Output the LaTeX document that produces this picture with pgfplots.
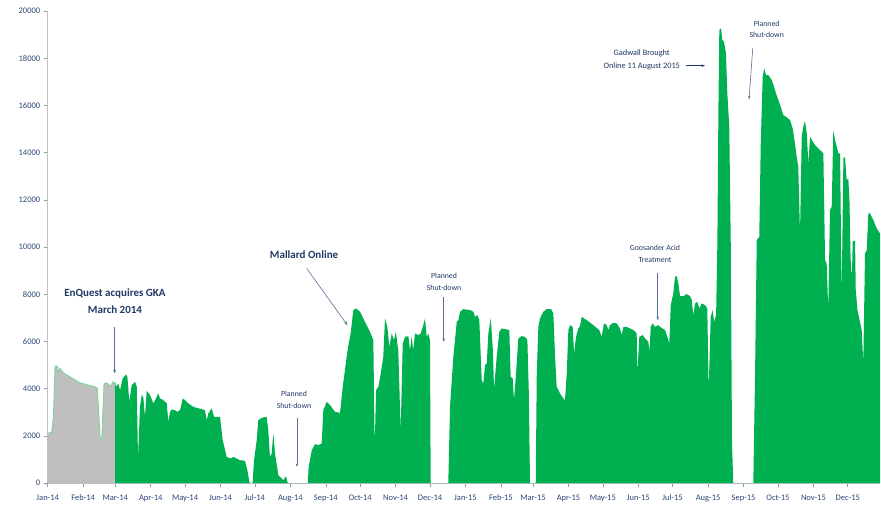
\documentclass[border=0pt]{standalone}
\usepackage{pgfplots}
\pgfplotsset{compat=1.18}
\usepackage{fontspec}
\setmainfont{Carlito}
\usetikzlibrary{arrows.meta}
\definecolor{prodgreen}{HTML}{00B050}
\definecolor{pregrey}{HTML}{BFBFBF}
\definecolor{preline}{HTML}{7FD39B}
\definecolor{navytext}{HTML}{1F3864}
\definecolor{ticktext}{HTML}{2A4577}
\definecolor{arrowcol}{HTML}{5B6F95}
\definecolor{axisgrey}{HTML}{BFBFBF}

% production before acquisition (Jan-Feb 2014), x = days since 1 Jan 2014
\pgfplotstableread{
d v
0 2100
3.5 2170
5 2810
6.4 4957
8.4 4957
9.3 4716
10.7 4860
13.7 4674
28.2 4250
35 4160
41.3 4080
43.4 4012
45.7 1962
47.2 1822
49.2 4224
51.5 4250
55 4110
57 4292
59 4200
}\pregka

\pgfplotstableread{
d v
59 0
59 4292
59.7 4080
61.7 4224
63.2 3940
65.5 4436
68.4 4605
69.6 4504
71.3 3445
73.4 4152
76.3 4292
77.8 4080
78.9 1046
80.6 3233
82.1 3729
83.5 3657
85 2810
86.5 3911
89.4 3729
92.3 3377
94.6 3589
96.6 3800
98.1 3589
101 3517
104 3377
105.4 2597
106.9 3021
108.3 3123
111.2 3093
113.2 3021
115.6 3093
118 3589
120 3517
122.9 3377
127.2 3233
137.4 3093
139 2669
140.3 2953
143.3 3165
145.3 2810
150.5 2810
152.9 1822
156.4 1114
159.3 1046
162.2 1114
168 975
172.4 945
174.4 551
176.2 55
176.8 0
179 0
180.3 975
182.6 1822
184 2669
186.1 2741
188.4 2784
191.3 2810
192.7 2246
194.2 1114
195.7 1258
197.1 2106
198.6 1258
201.5 339
205.9 127
208.2 297
209.4 55
210 0
227.2 0
228 691
230.7 1398
233.6 1652
236.5 1610
239.4 1681
240.8 3093
243.8 3445
246.7 3305
251 3021
255.4 2979
257.8 4080
261.2 5351
262.7 5847
264.7 6343
267 7330
269.4 7400
272.9 7259
277.2 6834
281.6 6410
284.5 6059
285.7 1540
286.9 3940
288.9 4080
291 4647
293.2 5351
294.7 6977
296.7 6622
298.5 5775
300.6 6343
302.6 6059
304.1 6410
306.3 5635
308.4 2200
310.2 5919
312.2 6199
315.1 6228
316.5 5635
318 6199
319.4 5635
320.9 6343
323.8 6271
325.9 6343
327.7 6622
329.7 6977
331.1 6199
332.5 6343
334 6059
334.6 0
350 0
351.5 3233
354.4 5351
357.4 6834
358.8 6906
360.3 7259
363.1 7372
369 7330
371.9 7259
373.4 7046
375.4 7118
377.1 6906
379.2 4364
380.6 4224
382.1 5000
383.6 5072
385 6343
387.1 6977
388.8 5775
390 4012
392.3 5351
394.6 6410
396.7 6555
401 6512
403.3 6483
404.5 4504
406.3 4436
407.4 3517
409.2 4647
411.2 6131
414.1 6228
417 6199
419.1 6059
420.3 3940
421.4 0
426.4 0
427.3 4647
428.7 6622
430.1 6977
433 7259
436 7372
439.8 7372
441.8 7188
443.3 5351
444.7 4080
447.6 3800
450.5 3589
452 3517
453.5 4647
454.9 6483
456.4 6695
458.7 6622
459.9 5495
461.6 6199
463.6 6555
465.1 6652
466.6 7046
470.9 6906
476.7 6695
481.9 6483
484 6199
486 6766
488.4 6695
489.8 6483
491.3 6695
494.2 6792
497.2 6766
500 6555
501.5 6271
503 6622
505.9 6622
508.8 6555
511.7 6483
514.6 6343
515.2 4647
516.9 6199
519.9 6271
521.9 6131
523.4 6059
524.8 5987
525.7 5563
526.9 6622
528.6 6766
530.6 6622
533.5 6695
535 6622
539.4 6483
541.4 6199
543.1 5919
544.4 7541
546.6 8036
548.1 8741
549.6 8770
551 8460
552.5 7923
555.4 7923
558.3 8008
561.2 7923
562.7 7754
564.1 7118
565.6 7612
567.6 7683
569.4 7400
571.4 7612
574.3 7541
576.3 7400
577.5 3940
579.3 7046
581 7330
582.2 6834
584 7118
585.1 10155
586 15804
586.8 19194
588.3 19264
589.4 18770
590.9 18700
592.6 18206
593.8 16511
595.5 15097
596.8 10155
597.9 1681
599 0
616.5 0
618 4504
619.5 10296
621.7 10437
623 14391
624.7 17216
625.9 17570
627.6 17287
629.6 17287
632.6 17075
634.6 16792
636.3 16511
638.4 16228
640.4 15946
642.7 15593
645.1 15521
648.6 15381
650.9 15026
652 14673
652.9 14391
654.4 13826
655.8 13402
657.3 10579
658.8 14673
660.2 15097
661.7 15338
663.2 14815
664.6 13543
666.1 14673
667.6 14533
670.4 14321
673.3 14180
676.3 14039
677.7 13968
679.2 9449
680.6 9307
682 7330
683.5 11567
685 11707
686.4 14956
687.9 14533
690.8 13968
692.3 13968
693.7 7895
695.2 13755
696.6 13826
698.1 12838
699.5 12909
700.5 12000
701.5 9500
702.6 8700
703.4 10266
705.4 10266
706 8200
707.5 7330
711.2 6483
712.6 5072
714.1 9732
715.6 9873
717 11425
718.5 11425
721.4 11143
724.3 10791
727.2 10579
}\enquest

\begin{document}
\begin{tikzpicture}
\begin{axis}[
    scale only axis,
    width=832pt, height=472pt,
    xmin=0, xmax=727.2,
    ymin=0, ymax=20000,
    axis x line*=bottom,
    axis y line*=left,
    axis line style={draw=axisgrey, line width=1.2pt, -},
    xtick={0,31,59,90,120,151,181,212,243,273,304,334,365,396,424,455,485,516,546,577,608,638,669,699},
    xticklabels={Jan-14,Feb-14,Mar-14,Apr-14,May-14,Jun-14,Jul-14,Aug-14,Sep-14,Oct-14,Nov-14,Dec-14,
                 Jan-15,Feb-15,Mar-15,Apr-15,May-15,Jun-15,Jul-15,Aug-15,Sep-15,Oct-15,Nov-15,Dec-15},
    ytick={0,2000,...,20000},
    scaled y ticks=false,
    yticklabel style={/pgf/number format/1000 sep={}},
    xticklabel style={yshift=-4pt},
    /pgf/number format/assume math mode=true,
    tick label style={font=\fontsize{8.5}{10}\selectfont, text=ticktext},
    tick align=outside,
    major tick length=4pt,
    tick style={draw=gray!80, line width=0.5pt},
    clip=false,
]
\addplot[fill=pregrey, draw=none] table[x=d, y=v] {\pregka} \closedcycle;
\addplot[preline, line width=0.9pt] table[x=d, y=v] {\pregka};
\addplot[fill=prodgreen, draw=none] table[x=d, y=v] {\enquest} \closedcycle;

% annotations
\node[align=center, text=navytext, font=\bfseries\fontsize{11}{17}\selectfont]
  at (axis cs:58.8,7724) {EnQuest acquires GKA\\March 2014};
\draw[arrowcol, line width=0.6pt, -{Stealth[length=4pt,width=3pt]}] (axis cs:58.5,6622) -- (axis cs:58.5,4648);

\node[text=navytext, font=\bfseries\fontsize{11}{13}\selectfont] at (axis cs:224,9660) {Mallard Online};
\draw[arrowcol, line width=0.6pt, -{Stealth[length=4pt,width=3pt]}] (axis cs:226.3,9097) -- (axis cs:261.8,6694);

\node[align=center, text=navytext, font=\fontsize{7.8}{11.7}\selectfont] at (axis cs:215.2,3517) {Planned\\Shut-down};
\draw[arrowcol, line width=0.6pt, -{Stealth[length=3.5pt,width=2.5pt]}] (axis cs:217.8,2741) -- (axis cs:217.8,691);

\node[align=center, text=navytext, font=\fontsize{7.8}{12}\selectfont] at (axis cs:346.3,8529) {Planned\\Shut-down};
\draw[arrowcol, line width=0.6pt, -{Stealth[length=3.5pt,width=2.5pt]}] (axis cs:346,7894) -- (axis cs:346,5987);

\node[align=center, text=navytext, font=\fontsize{7.8}{11.6}\selectfont] at (axis cs:530.6,9724) {Goosander Acid\\Treatment};
\draw[arrowcol, line width=0.6pt, -{Stealth[length=3.5pt,width=2.5pt]}] (axis cs:533,8885) -- (axis cs:533,6906);

\node[align=center, text=navytext, font=\fontsize{8.3}{13.4}\selectfont] at (axis cs:519,17923) {Gadwall Brought\\Online 11 August 2015};
\draw[navytext, line width=0.6pt, -{Stealth[length=3.5pt,width=2.5pt]}] (axis cs:557.7,17681) -- (axis cs:574.3,17681);

\node[align=center, text=navytext, font=\fontsize{7.8}{11}\selectfont] at (axis cs:628.2,19215) {Planned\\Shut-down};
\draw[arrowcol, line width=0.6pt, -{Stealth[length=3.5pt,width=2.5pt]}] (axis cs:616,18418) -- (axis cs:612.8,16257);
\end{axis}
\pgfresetboundingbox
\path[use as bounding box] ([xshift=-47.7pt,yshift=-23pt]current axis.south west) rectangle ([xshift=1pt,yshift=11pt]current axis.north east);
\end{tikzpicture}
\end{document}
